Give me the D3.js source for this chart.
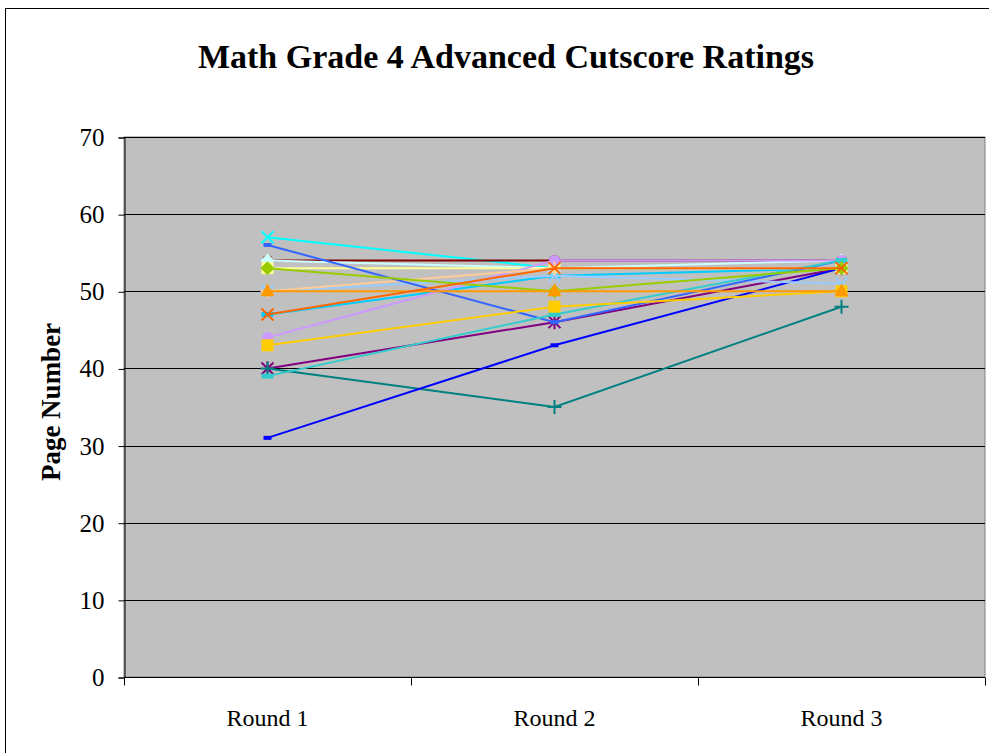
<!DOCTYPE html>
<html>
<head>
<meta charset="utf-8">
<script src="https://cdn.jsdelivr.net/npm/d3@7"></script>
<style>
  body { margin: 0; background: #fff; }
  text { font-family: "Liberation Serif", "Times New Roman", serif; }
</style>
</head>
<body>
<div id="chart"></div>
<script>
// rounds on the x axis
var rounds = ["Round 1", "Round 2", "Round 3"];
var yTicks = [0, 10, 20, 30, 40, 50, 60, 70];

// one array per panelist (values per round)
var cyanX        = [57, 53, 53];
var purpleStar   = [40, 46, 53];
var darkRedDot   = [54, 54, 54];
var tealPlus     = [40, 35, 48];
var blueDash     = [31, 43, 53];
var skyBlue      = [47, 52, 53];
var turquoise    = [54, 53, 54];
var lightYellow  = [53, 53, 53];
var paleBlue     = [50, 52, 51];
var lavender     = [44, 54, 54];
var tan          = [50, 53, 53];
var royalBlue    = [56, 46, 54];
var aqua         = [39, 47, 54];
var lime         = [53, 50, 53];
var gold         = [43, 48, 50];
var orange       = [50, 50, 50];
var orangeRed    = [47, 53, 53];

var series = [
  {values: cyanX,       color: "#00FFFF", marker: "x"},
  {values: purpleStar,  color: "#800080", marker: "star"},
  {values: darkRedDot,  color: "#800000", marker: "circle"},
  {values: tealPlus,    color: "#008080", marker: "plus"},
  {values: blueDash,    color: "#0000FF", marker: "dash"},
  {values: skyBlue,     color: "#00CCFF", marker: "longdash"},
  {values: turquoise,   color: "#CCFFFF", marker: "diamond"},
  {values: lightYellow, color: "#FFFF99", marker: "square"},
  {values: paleBlue,    color: "#99CCFF", marker: "x"},
  {values: lavender,    color: "#CC99FF", marker: "circle"},
  {values: tan,         color: "#FFCC99", marker: "plus"},
  {values: royalBlue,   color: "#3366FF", marker: "dash"},
  {values: aqua,        color: "#33CCCC", marker: "longdash"},
  {values: lime,        color: "#99CC00", marker: "diamond"},
  {values: gold,        color: "#FFCC00", marker: "square"},
  {values: orange,      color: "#FF9900", marker: "triangle"},
  {values: orangeRed,   color: "#FF6600", marker: "x"}
];

var W = 989, H = 753;
var plot = {left: 124, right: 985, top: 137, bottom: 677};

var svg = d3.select("#chart").append("svg")
    .attr("width", W)
    .attr("height", H);

// chart border
svg.append("rect")
    .attr("x", 5.5).attr("y", 8.5)
    .attr("width", W + 20).attr("height", H + 20)
    .attr("fill", "#fff")
    .attr("stroke", "#000");

var x = d3.scaleBand()
    .domain(rounds)
    .range([plot.left, plot.right]);

var y = d3.scaleLinear()
    .domain([0, 70])
    .range([plot.bottom, plot.top]);

// plot area
svg.append("rect")
    .attr("x", plot.left).attr("y", plot.top)
    .attr("width", plot.right - plot.left)
    .attr("height", plot.bottom - plot.top)
    .attr("fill", "#C0C0C0")
    .attr("stroke", "#808080");

// gridlines
svg.selectAll("line.grid")
    .data(yTicks.filter(function(d){ return d > 0; }))
    .enter().append("line")
    .attr("class", "grid")
    .attr("x1", plot.left).attr("x2", plot.right)
    .attr("y1", function(d){ return Math.round(y(d)) + 0.5; })
    .attr("y2", function(d){ return Math.round(y(d)) + 0.5; })
    .attr("stroke", "#000");

// y axis
var yAxis = svg.append("g")
    .attr("transform", "translate(" + (plot.left + 0.5) + ",0.5)")
    .call(d3.axisLeft(y).tickValues(yTicks).tickSize(6).tickPadding(14).tickFormat(d3.format("d")));
yAxis.selectAll("text").style("font-size", "25px").attr("fill", "#000")
    .attr("font-family", "Liberation Serif");
yAxis.select(".domain").attr("stroke", "#000");

// x axis with ticks at category boundaries
var xAxisG = svg.append("g")
    .attr("transform", "translate(0," + (plot.bottom + 0.5) + ")");
xAxisG.append("line")
    .attr("x1", plot.left).attr("x2", plot.right)
    .attr("stroke", "#000");
var bounds = rounds.map(function(r){ return x(r); }).concat([x(rounds[rounds.length - 1]) + x.bandwidth()]);
xAxisG.selectAll("line.tick")
    .data(bounds)
    .enter().append("line")
    .attr("class", "tick")
    .attr("x1", function(d){ return Math.round(d) + 0.5; })
    .attr("x2", function(d){ return Math.round(d) + 0.5; })
    .attr("y1", 0).attr("y2", 8)
    .attr("stroke", "#000");
xAxisG.selectAll("text")
    .data(rounds)
    .enter().append("text")
    .attr("x", function(d){ return x(d) + x.bandwidth() / 2; })
    .attr("y", 48)
    .attr("text-anchor", "middle")
    .style("font-size", "24px")
    .text(function(d){ return d; });

// lines
var line = d3.line()
    .x(function(d, i){ return x(rounds[i]) + x.bandwidth() / 2; })
    .y(function(d){ return y(d); });

var drawMarker = function(g, type, color) {
    var s = 6;
    if (type === "circle") {
        g.append("circle").attr("r", 5.5).attr("fill", color);
    } else if (type === "square") {
        g.append("rect").attr("x", -6).attr("y", -6).attr("width", 12).attr("height", 12).attr("fill", color);
    } else if (type === "diamond") {
        g.append("path").attr("d", "M0,-7L7,0L0,7L-7,0Z").attr("fill", color);
    } else if (type === "triangle") {
        g.append("path").attr("d", "M0,-8L7,5L-7,5Z").attr("fill", color);
    } else if (type === "dash") {
        g.append("rect").attr("x", -4).attr("y", -2).attr("width", 8).attr("height", 4).attr("fill", color);
    } else if (type === "longdash") {
        g.append("rect").attr("x", -6).attr("y", -2.5).attr("width", 12).attr("height", 5).attr("fill", color);
    } else if (type === "x") {
        g.append("path").attr("d", "M-" + s + ",-" + s + "L" + s + "," + s + "M" + s + ",-" + s + "L-" + s + "," + s)
            .attr("stroke", color).attr("stroke-width", 2);
    } else if (type === "plus") {
        g.append("path").attr("d", "M-7,0L7,0M0,-7L0,7")
            .attr("stroke", color).attr("stroke-width", 2);
    } else if (type === "star") {
        g.append("path").attr("d", "M-" + s + ",-" + s + "L" + s + "," + s + "M" + s + ",-" + s + "L-" + s + "," + s + "M0,-7L0,7")
            .attr("stroke", color).attr("stroke-width", 2);
    }
};

series.forEach(function(s) {
    var g = svg.append("g");
    g.append("path")
        .datum(s.values)
        .attr("d", line)
        .attr("fill", "none")
        .attr("stroke", s.color)
        .attr("stroke-width", 2);
    s.values.forEach(function(v, i) {
        var m = g.append("g")
            .attr("transform", "translate(" + (x(rounds[i]) + x.bandwidth() / 2) + "," + y(v) + ")");
        drawMarker(m, s.marker, s.color);
    });
});

// title
svg.append("text")
    .attr("x", 506).attr("y", 68)
    .attr("text-anchor", "middle")
    .style("font-size", "34px")
    .style("font-weight", "bold")
    .text("Math Grade 4 Advanced Cutscore Ratings");

// y label
svg.append("text")
    .attr("transform", "translate(60,402) rotate(-90)")
    .attr("text-anchor", "middle")
    .style("font-size", "27px")
    .style("font-weight", "bold")
    .text("Page Number");
</script>
</body>
</html>
